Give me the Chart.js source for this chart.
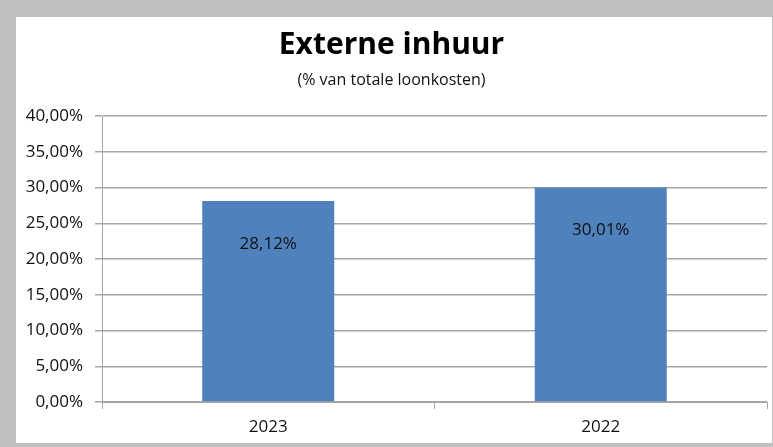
<!DOCTYPE html>
<html>
<head>
<meta charset="utf-8">
<script src="https://cdn.jsdelivr.net/npm/chart.js@4/dist/chart.umd.min.js"></script>
<style>
	html, body { margin: 0; padding: 0; background: #ffffff; }
	#frame {
		position: absolute; left: 0; top: 0;
		width: 756px; height: 426px;
		border-style: solid;
		border-color: #bfbfbf;
		border-width: 17px 1px 4px 16px;
		background: #ffffff;
	}
	#chart { display: block; }
</style>
</head>
<body>
<div id="frame"><canvas id="chart" width="756" height="426"></canvas></div>
<script>
// chart data
var years = ['2023', '2022'];
var percentages = [28.12, 30.01];
var yTicks = [0, 5, 10, 15, 20, 25, 30, 35, 40];

var fontFamily = '"Open Sans", sans-serif';
var textColor = '#111111';
var gridColor = '#a6a6a6';

function pct(v) {
	return v.toFixed(2).replace('.', ',') + '%';
}

// labels inside the bars, a bit below the top
var barLabels = {
	id: 'barLabels',
	afterDatasetsDraw: function(chart) {
		var ctx = chart.ctx;
		var meta = chart.getDatasetMeta(0);
		ctx.save();
		ctx.font = '17px ' + fontFamily;
		ctx.fillStyle = textColor;
		ctx.textAlign = 'center';
		ctx.textBaseline = 'middle';
		meta.data.forEach(function(bar, i) {
			ctx.fillText(pct(percentages[i]), bar.x, bar.y + 43);
		});
		ctx.restore();
	}
};

new Chart(document.getElementById('chart').getContext('2d'), {
	type: 'bar',
	data: {
		labels: years,
		datasets: [{
			label: 'Externe inhuur',
			data: percentages,
			backgroundColor: '#4f81bd',
			borderWidth: 0,
			categoryPercentage: 1,
			barPercentage: 0.397
		}]
	},
	options: {
		responsive: false,
		animation: false,
		layout: {
			padding: { top: 0, right: 5, bottom: -3, left: 0 }
		},
		plugins: {
			legend: { display: false },
			tooltip: { enabled: false },
			title: {
				display: true,
				text: 'Externe inhuur',
				color: '#000000',
				font: { family: fontFamily, size: 30, weight: 'bold', lineHeight: 1.2 },
				padding: { top: 10, bottom: 8 }
			},
			subtitle: {
				display: true,
				text: '(% van totale loonkosten)',
				color: textColor,
				font: { family: fontFamily, size: 16, lineHeight: 1.2 },
				padding: { top: 0, bottom: 26 }
			}
		},
		scales: {
			x: {
				grid: {
					offset: true,
					drawOnChartArea: false,
					drawTicks: true,
					tickLength: 7,
					color: gridColor
				},
				border: { color: gridColor, width: 1 },
				ticks: {
					color: textColor,
					padding: 10,
					font: { family: fontFamily, size: 17, lineHeight: 1 }
				}
			},
			y: {
				min: 0,
				max: 40,
				afterBuildTicks: function(scale) {
					scale.ticks = yTicks.map(function(v) { return { value: v }; });
				},
				afterFit: function(scale) {
					scale.width = 86;
				},
				grid: {
					color: gridColor,
					lineWidth: 1.5,
					tickLength: 7
				},
				border: { color: gridColor, width: 1 },
				ticks: {
					color: textColor,
					padding: 12,
					font: { family: fontFamily, size: 17 },
					callback: function(value) {
						return pct(value);
					}
				}
			}
		}
	},
	plugins: [barLabels]
});
</script>
</body>
</html>
